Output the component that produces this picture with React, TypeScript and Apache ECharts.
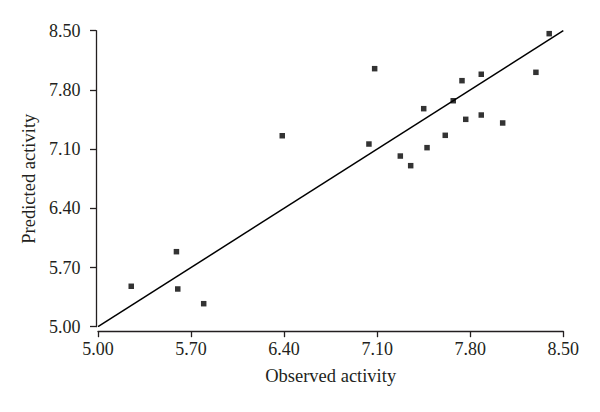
import React, { useEffect, useRef } from "react";
import * as echarts from "echarts";

const observed = [5.25, 5.59, 5.6, 5.795, 6.386, 7.038, 7.081, 7.274, 7.352, 7.45, 7.475, 7.612, 7.672, 7.738, 7.766, 7.883, 7.883, 8.044, 8.294, 8.394];
const predicted = [5.478, 5.887, 5.446, 5.272, 7.258, 7.16, 8.051, 7.018, 6.904, 7.578, 7.117, 7.263, 7.672, 7.909, 7.452, 7.985, 7.503, 7.409, 8.008, 8.465];
const fitLine = [[5.0, 5.0], [8.5, 8.5]];
const axisMin = 5.0;
const axisMax = 8.5;
const axisStep = 0.7;

const FONT = "Liberation Serif";
const TEXT = "#231f20";

export default function App() {
  const ref = useRef<HTMLDivElement>(null);
  useEffect(() => {
    if (!ref.current) return;
    const chart = echarts.init(ref.current, null, { renderer: "svg" });
    const axisCommon = {
      type: "value",
      min: axisMin,
      max: axisMax,
      interval: axisStep,
      splitLine: { show: false },
      axisLine: { show: true, lineStyle: { color: TEXT, width: 1.3 } },
      axisTick: { show: true, length: 6, lineStyle: { color: TEXT, width: 1.3 } },
      nameLocation: "middle",
      nameTextStyle: { fontFamily: FONT, fontSize: 18.5, color: TEXT },
    };
    chart.setOption({
      animation: false,
      grid: { left: 98, right: 36.7, top: 30.7, bottom: 85.3, containLabel: false },
      xAxis: {
        ...axisCommon,
        offset: 4.5,
        name: "Observed activity",
        nameGap: 35,
        axisLabel: {
          fontFamily: FONT,
          fontSize: 18,
          color: TEXT,
          margin: 9,
          formatter: (v: number) => v.toFixed(2),
        },
      },
      yAxis: {
        ...axisCommon,
        offset: 2,
        name: "Predicted activity",
        nameGap: 56,
        axisLabel: {
          fontFamily: FONT,
          fontSize: 18,
          color: TEXT,
          margin: 15.5,
          formatter: (v: number) => v.toFixed(2),
        },
      },
      series: [
        {
          type: "line",
          data: fitLine,
          showSymbol: false,
          symbol: "none",
          lineStyle: { color: "#000", width: 1.5 },
          silent: true,
        },
        {
          type: "scatter",
          data: observed.map((x, i) => [x, predicted[i]]),
          symbol: "rect",
          symbolSize: 5.5,
          itemStyle: { color: "#000" },
        },
      ],
    });
    return () => chart.dispose();
  }, []);
  return <div ref={ref} style={{ width: 600, height: 412, position: "absolute", left: 0, top: 0, background: "#fff" }} />;
}
